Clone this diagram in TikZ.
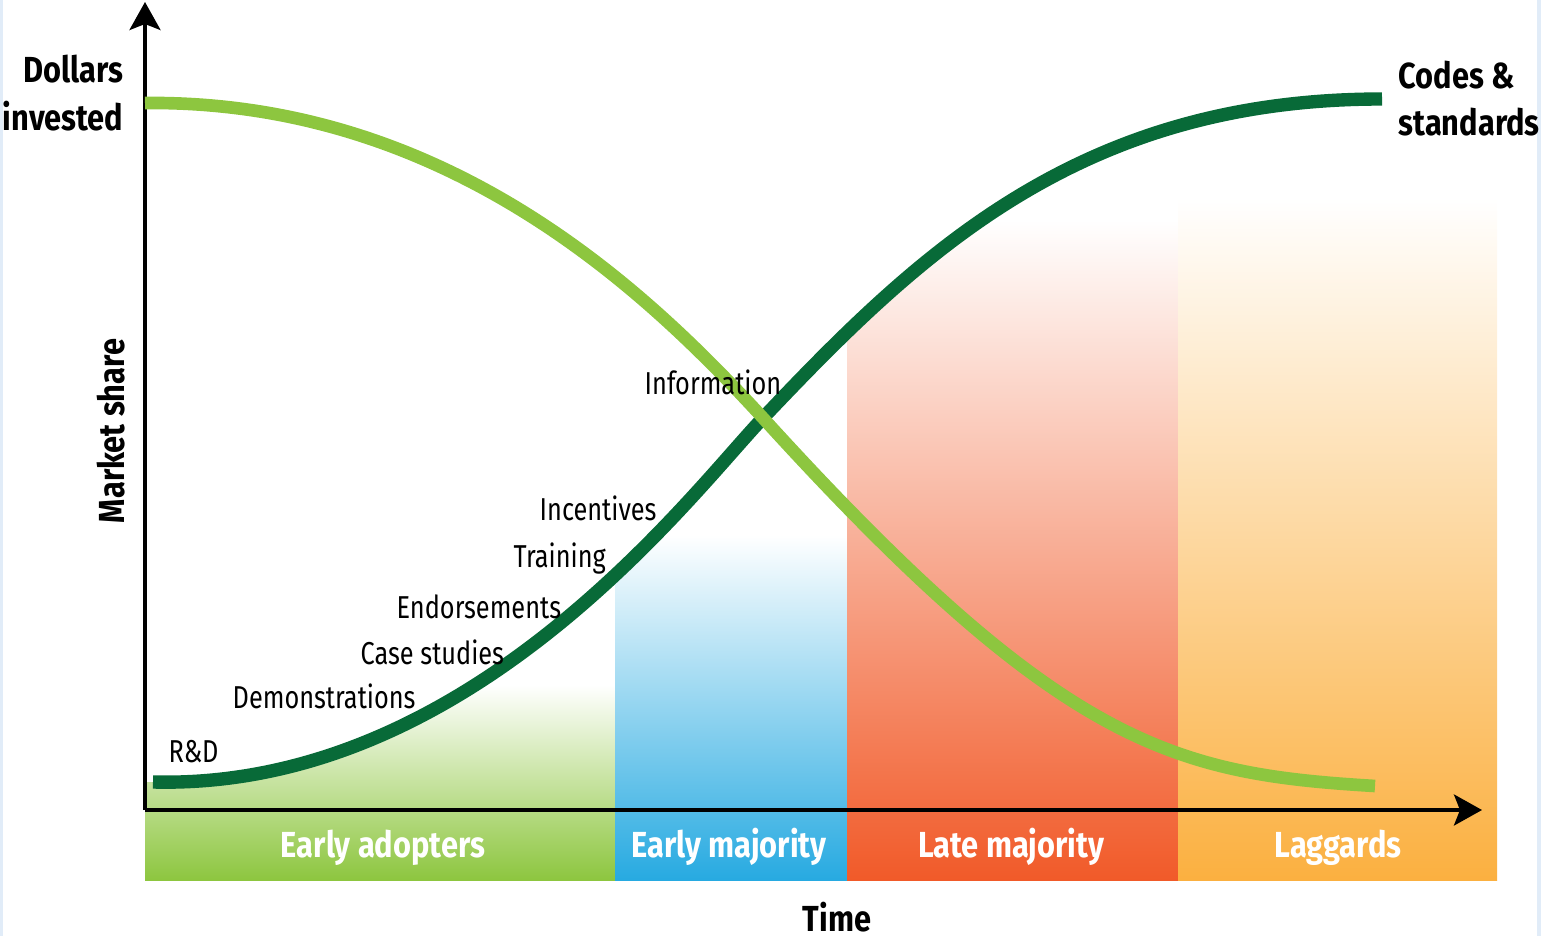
\documentclass[tikz,border=0pt]{standalone}
\usepackage{fontspec}
\setmainfont{Fira Sans}[FakeStretch=0.80, BoldFeatures={FakeStretch=0.85}]
\usetikzlibrary{arrows.meta}
\definecolor{dkgreen}{RGB}{8,106,56}
\definecolor{ltgreen}{RGB}{141,198,63}
\definecolor{cblue}{RGB}{39,170,225}
\definecolor{corange}{RGB}{241,90,41}
\definecolor{cpeach}{RGB}{247,176,140}
\definecolor{cyellow}{RGB}{251,176,64}
\definecolor{edgeblue}{RGB}{225,236,248}
\begin{document}
\begin{tikzpicture}[x=0.01cm,y=-0.01cm,
  lbl/.style={inner sep=0pt, font=\fontsize{9}{10}\selectfont, anchor=base west},
  big/.style={inner sep=0pt, font=\fontsize{10.3}{12}\selectfont\bfseries},
  bandlbl/.style={big, text=white, anchor=base},
  axisline/.style={line width=0.95pt, -{Stealth[length=0.28cm,width=0.31cm,inset=0.06cm]}},
  darkcurve/.style={dkgreen, line width=3.8pt},
  lightcurve/.style={ltgreen, line width=3.6pt}]
\useasboundingbox (0,0) rectangle (1541,936);
% faint edge strips
\fill[edgeblue] (0,0) rectangle (3,936);
\fill[edgeblue] (1537,0) rectangle (1541,936);
% coordinates
\coordinate (O) at (145,810);
\coordinate (ytip) at (145,2);
\coordinate (xtip) at (1482,810);
\coordinate (dS) at (153,782);
\coordinate (dM) at (763,418);
\coordinate (dE) at (1382,99);
\coordinate (lS) at (145,103);
\coordinate (lM) at (763,418);
\coordinate (lE) at (1375,786);
% shaded adopter bands, clipped below the dark curve
\begin{scope}
  \clip (145,782) -- (dS) .. controls (470,790) and (690,495) .. (dM)
        .. controls (920,252) and (1080,99) .. (dE) -- (1541,99) -- (1541,936) -- (145,936) -- cycle;
  \shade[top color=white, bottom color=ltgreen] (145,685) rectangle (615,880);
  \shade[top color=white, bottom color=cblue] (615,535) rectangle (847,880);
  \shade[top color=white, middle color=cpeach, bottom color=corange] (847,220) rectangle (1178,880);
  \shade[top color=white, bottom color=cyellow] (1178,198) rectangle (1497,880);
\end{scope}
% axes
\draw[axisline] (O) -- (ytip);
\draw[axisline] (O) -- (xtip);
% curves
\draw[darkcurve] (dS) .. controls (470,790) and (690,495) .. (dM)
      .. controls (920,252) and (1080,99) .. (dE);
\draw[lightcurve] (lS) .. controls (450,100) and (650,295) .. (lM)
      .. controls (1063,748) and (1175,774) .. (lE);
% axis labels
\node[big, anchor=base east] (dol) at (124,82) {Dollars};
\node[big, anchor=base east] (inv) at (124,130) {invested};
\node[big, anchor=base west] (cod) at (1398,88) {Codes \&};
\node[big, anchor=base west] (std) at (1398,135) {standards};
\node[big, anchor=base, rotate=90] (ms) at (124,431) {Market share};
\node[big, anchor=base] (time) at (837,931) {Time};
% band labels
\node[bandlbl] (ea) at (383,857) {Early adopters};
\node[bandlbl] (em) at (729,857) {Early majority};
\node[bandlbl] (lm) at (1011,857) {Late majority};
\node[bandlbl] (lg) at (1338,857) {Laggards};
% stage labels
\node[lbl] (rd) at (168,762) {R\&D};
\node[lbl] (demo) at (232,708) {Demonstrations};
\node[lbl] (case) at (360,664) {Case studies};
\node[lbl] (endo) at (396,618) {Endorsements};
\node[lbl] (train) at (513,567) {Training};
\node[lbl] (inc) at (539,520) {Incentives};
\node[lbl] (info) at (644,394) {Information};
\end{tikzpicture}
\end{document}
